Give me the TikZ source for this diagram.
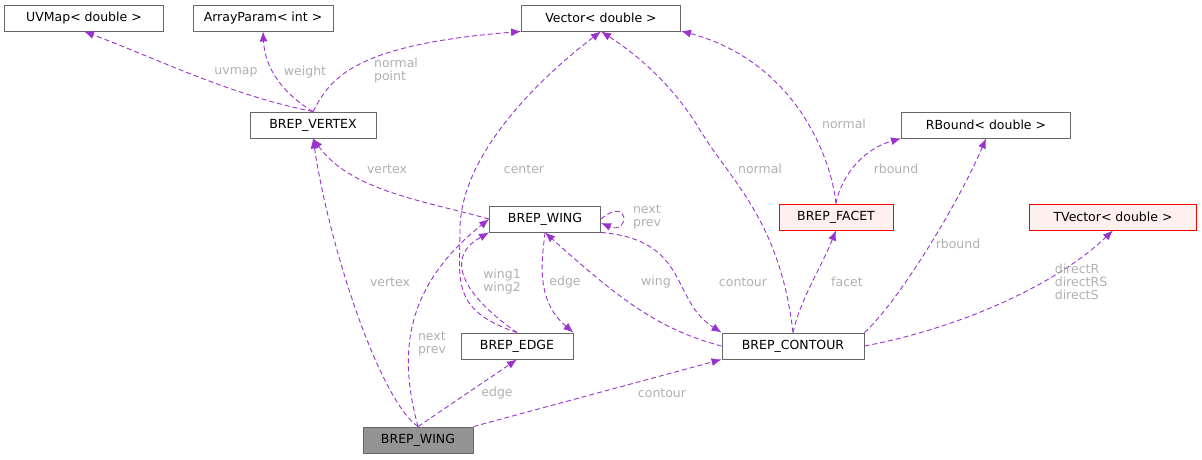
\documentclass[tikz,border=0pt]{standalone}
\usepackage{fontspec}
\setmainfont{DejaVu Sans}
\usetikzlibrary{arrows.meta}
\definecolor{edgec}{HTML}{9A32CD}
\definecolor{labc}{HTML}{B0B0B0}
\begin{document}
\begin{tikzpicture}[x=1pt,y=-1pt,
  box/.style={draw=black!60,line width=0.9pt,fill=white,minimum height=26pt,inner sep=0pt,font=\fontsize{12.5}{14}\selectfont},
  red/.style={box,draw=red,fill=red!6},
  cur/.style={box,fill=black!42},
  rel/.style={draw=edgec,line width=0.9pt,dash pattern=on 5pt off 3pt,-{Latex[length=10pt,width=8pt]}},
  lab/.style={text=labc,font=\fontsize{12.5}{13}\selectfont,align=left,inner sep=0pt}]
\useasboundingbox (0,0) rectangle (1202,459);
\node[box,minimum width=159pt] (uv) at (84,18) {UVMap< double >};
\node[box,minimum width=140pt] (ap) at (263,18) {ArrayParam< int >};
\node[box,minimum width=159pt] (vec) at (601,18) {Vector< double >};
\node[box,minimum width=126pt] (vx) at (313,125) {BREP\_VERTEX};
\node[box,minimum width=169pt] (rb) at (986,125) {RBound< double >};
\node[box,minimum width=111pt] (w) at (545,219) {BREP\_WING};
\node[red,minimum width=114pt] (f) at (836,217) {BREP\_FACET};
\node[red,minimum width=167pt] (tv) at (1113,217) {TVector< double >};
\node[box,minimum width=112pt] (e) at (517,346) {BREP\_EDGE};
\node[box,minimum width=142pt] (c) at (793,346) {BREP\_CONTOUR};
\node[cur,minimum width=110pt] (bw) at (418,440) {BREP\_WING};

\draw[rel] (vx.north) .. controls (230,95) and (160,60) .. (uv.south);
\draw[rel] (vx.north) .. controls (285,95) and (265,70) .. (ap.south);
\draw[rel] (vx.north) .. controls (330,80) and (350,45) .. (vec.south west);
\node[lab] at (236,72) {uvmap};
\node[lab] at (305,72) {weight};
\node[lab] at (396,71) {normal\\point};

\draw[rel] (w.west) .. controls (420,200) and (350,190) .. (vx.south);
\node[lab] at (387,169) {vertex};
\draw[rel] (e.north) .. controls (450,310) and (460,280) .. (460,230) .. controls (460,150) and (550,70) .. (vec.south);
\node[lab] at (524,169) {center};
\draw[rel] (c.north) .. controls (780,220) and (730,180) .. (700,130) .. controls (670,80) and (630,50) .. (vec.south);
\node[lab] at (760,169) {normal};
\draw[rel] (f.north) .. controls (830,150) and (790,60) .. (681,31);
\node[lab] at (844,124) {normal};
\draw[rel] (f.north) .. controls (840,180) and (860,150) .. (rb.south west);
\node[lab] at (896,169) {rbound};
\draw[rel] (c.north east) .. controls (900,300) and (960,200) .. (rb.south);
\node[lab] at (958,244) {rbound};
\draw[rel] (w.east) .. controls (630,195) and (630,235) .. ([yshift=-4pt]w.east);
\node[lab] at (647,217) {next\\prev};
\draw[rel] (w.south) .. controls (542,260) and (535,300) .. (e.north east);
\node[lab] at (565,282) {edge};
\draw[rel] (e.north) .. controls (470,300) and (440,260) .. (w.south west);
\node[lab] at (502,282) {wing1\\wing2};
\draw[rel] (w.south east) .. controls (690,240) and (670,300) .. (c.north west);
\node[lab] at (743,282) {contour};
\draw[rel] (c.west) .. controls (660,330) and (620,300) .. (w.south);
\node[lab] at (656,282) {wing};
\draw[rel] (c.north) .. controls (800,300) and (820,270) .. (f.south);
\node[lab] at (847,282) {facet};
\draw[rel] (c.east) .. controls (950,330) and (1050,290) .. (tv.south);
\node[lab] at (1081,282) {directR\\directRS\\directS};
\draw[rel] (bw.north) .. controls (380,400) and (330,250) .. (vx.south);
\node[lab] at (390,282) {vertex};
\draw[rel] (bw.north) .. controls (400,360) and (400,290) .. (w.west);
\node[lab] at (432,344) {next\\prev};
\draw[rel] (bw.north) -- (e.south);
\node[lab] at (497,393) {edge};
\draw[rel] (bw.north east) -- (c.south west);
\node[lab] at (662,393) {contour};
\end{tikzpicture}
\end{document}
